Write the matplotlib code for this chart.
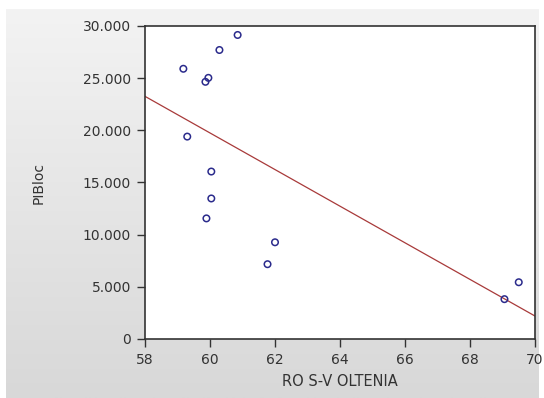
import numpy as np
import matplotlib
matplotlib.use("Agg")
import matplotlib.pyplot as plt

plt.rcParams['font.family'] = ['DejaVu Sans']

# RO S-V OLTENIA vs PIBloc
x_vals = [59.18, 59.30, 59.89, 60.04, 60.04, 59.86, 59.95, 60.29, 60.85, 61.77, 62.00, 69.06, 69.50]
y_vals = [25900, 19400, 11560, 13470, 16050, 24650, 25030, 27700, 29140, 7170, 9270, 3820, 5440]
x_ticks = [58, 60, 62, 64, 66, 68, 70]
y_ticks = [0, 5000, 10000, 15000, 20000, 25000, 30000]
y_labels = ['0', '5.000', '10.000', '15.000', '20.000', '25.000', '30.000']

fig = plt.figure(figsize=(5.44, 3.98), dpi=100)
fig.patch.set_facecolor('white')

# grey gradient panel behind the chart
bg = fig.add_axes([6/544, 0, 533/544, 389/398])
bg.axis('off')
grad = np.linspace(0, 1, 256).reshape(-1, 1)
bg.imshow(grad, aspect='auto', cmap=matplotlib.colors.LinearSegmentedColormap.from_list(
    'g', ['#f3f3f3', '#d8d8d8']), extent=[0, 1, 0, 1], origin='upper')

ax = fig.add_axes([145/544, 59/398, 390/544, 313/398])
ax.set_facecolor('white')

xs = np.array(x_vals)
ys = np.array(y_vals)
slope, intercept = np.polyfit(xs, ys, 1)
line_x = np.array([58, 70])
ax.plot(line_x, intercept + slope * line_x, color='#a83a3a', lw=0.9)
ax.scatter(xs, ys, s=22, facecolors='none', edgecolors='#2b2b8c', linewidths=1.1, zorder=3)

ax.set_xlim(58, 70)
ax.set_ylim(0, 30000)
ax.set_xticks(x_ticks)
ax.set_yticks(y_ticks)
ax.set_yticklabels(y_labels)
ax.tick_params(direction='out', length=6, width=1, pad=4, colors='#333333',
               labelsize=10, labelcolor='#333333')
for s in ax.spines.values():
    s.set_color('#333333')
    s.set_linewidth(1.2)

ax.set_xlabel('RO S-V OLTENIA', fontsize=10.5, color='#333333', labelpad=5)
ax.set_ylabel('PIBloc', fontsize=10, color='#333333')
ax.yaxis.set_label_coords(-0.255, 0.5)

fig.savefig('out.png', dpi=100)
